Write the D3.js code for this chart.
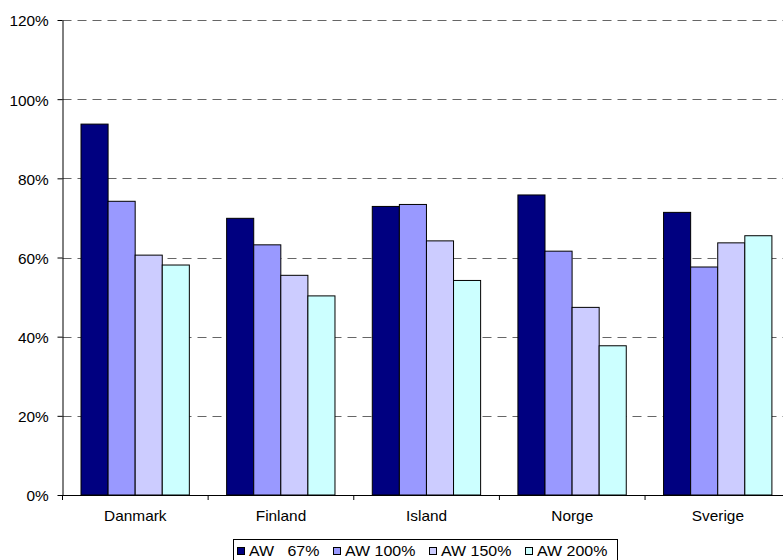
<!DOCTYPE html>
<html>
<head>
<meta charset="utf-8">
<script src="https://cdn.jsdelivr.net/npm/d3@7"></script>
<style>
  html, body { margin: 0; padding: 0; background: #fff; }
  svg { display: block; font-family: Arial, "Liberation Sans", sans-serif; }
</style>
</head>
<body>
<svg id="chart" width="783" height="560"></svg>
<script>
const categories = ["Danmark", "Finland", "Island", "Norge", "Sverige"];
const seriesNames = ["AW   67%", "AW 100%", "AW 150%", "AW 200%"];
const seriesColors = ["#000080", "#9999FF", "#CCCCFF", "#CCFFFF"];
const aw67  = [0.937, 0.699, 0.729, 0.758, 0.714];
const aw100 = [0.742, 0.632, 0.734, 0.616, 0.576];
const aw150 = [0.606, 0.555, 0.642, 0.474, 0.637];
const aw200 = [0.581, 0.503, 0.542, 0.377, 0.655];
const yTicks = [0, 0.2, 0.4, 0.6, 0.8, 1.0, 1.2];

(function () {
const seriesValues = [aw67, aw100, aw150, aw200];
const rows = categories.map((c, i) => ({
  cat: c,
  vals: seriesNames.map((s, j) => ({ s, j, v: seriesValues[j][i] }))
}));

const svg = d3.select("#chart");
const pLeft = 62.5, pRight = 790.7, pTop = 20, pBottom = 495;
const sx = 1.1;

const x0 = d3.scaleBand().domain(categories).range([pLeft, pRight]).padding(0);
const bw = x0.bandwidth();
const x1 = d3.scaleBand().domain(seriesNames).range([18.5, bw - 18.8]).padding(0);
const y = d3.scaleLinear().domain([0, 1.2]).range([pBottom, pTop]);

// gridlines
svg.append("g").selectAll("line")
  .data(yTicks.filter(t => t > 0))
  .join("line")
  .attr("x1", pLeft).attr("x2", pRight)
  .attr("y1", d => Math.round(y(d)) + 0.5).attr("y2", d => Math.round(y(d)) + 0.5)
  .attr("stroke", "#666").attr("stroke-width", 1.2)
  .attr("stroke-dasharray", "9,6");

// bars
const groups = svg.append("g").selectAll("g")
  .data(rows).join("g")
  .attr("transform", d => `translate(${x0(d.cat)},0)`);
groups.selectAll("rect")
  .data(d => d.vals).join("rect")
  .attr("x", d => x1(d.s))
  .attr("y", d => y(d.v))
  .attr("width", x1.bandwidth())
  .attr("height", d => pBottom - y(d.v))
  .attr("fill", d => seriesColors[d.j])
  .attr("stroke", "#000").attr("stroke-width", 1);

// y axis
const yAxis = d3.axisLeft(y).tickValues(yTicks)
  .tickFormat(d3.format(".0%")).tickSizeInner(5).tickSizeOuter(0).tickPadding(0);
const gy = svg.append("g").attr("transform", `translate(${pLeft},0)`).call(yAxis);
gy.select(".domain").attr("stroke", "#000");
gy.selectAll(".tick line").attr("stroke", "#000");
gy.selectAll(".tick text")
  .attr("x", -12.5).attr("dy", "0.42em")
  .attr("font-size", 14).attr("fill", "#000")
  .attr("font-family", "Arial, 'Liberation Sans', sans-serif")
  .attr("transform", `scale(${sx},1)`);

// x axis
const xAxis = d3.axisBottom(x0).tickSize(0).tickPadding(0);
const gx = svg.append("g").attr("transform", `translate(0,${pBottom})`).call(xAxis);
gx.select(".domain").attr("stroke", "#000");
gx.selectAll(".tick text")
  .attr("y", 16.5).attr("dy", "0.71em")
  .attr("font-size", 14).attr("fill", "#000")
  .attr("font-family", "Arial, 'Liberation Sans', sans-serif")
  .attr("transform", `scale(${sx},1)`)
  .attr("x", 0);
// category boundary ticks
svg.append("g").selectAll("line")
  .data(d3.range(categories.length + 1))
  .join("line")
  .attr("x1", i => pLeft + i * x0.step()).attr("x2", i => pLeft + i * x0.step())
  .attr("y1", pBottom).attr("y2", pBottom + 5)
  .attr("stroke", "#000");

// legend
const legX = 233, legY = 539, legW = 384, legH = 30;
svg.append("rect")
  .attr("x", legX + 0.5).attr("y", legY + 0.5)
  .attr("width", legW).attr("height", legH)
  .attr("fill", "#fff").attr("stroke", "#000");
const legItems = svg.append("g").selectAll("g")
  .data(seriesNames).join("g")
  .attr("transform", (d, i) => `translate(${legX + 4 + i * 96},${legY})`);
legItems.append("rect")
  .attr("x", 0.5).attr("y", 8.5).attr("width", 7).attr("height", 7)
  .attr("fill", (d, i) => seriesColors[i]).attr("stroke", "#000");
legItems.append("text")
  .attr("transform", `translate(12,17) scale(1.14,1)`)
  .attr("font-size", 14).attr("fill", "#000")
  .style("white-space", "pre")
  .text(d => d);
})();
</script>
</body>
</html>
